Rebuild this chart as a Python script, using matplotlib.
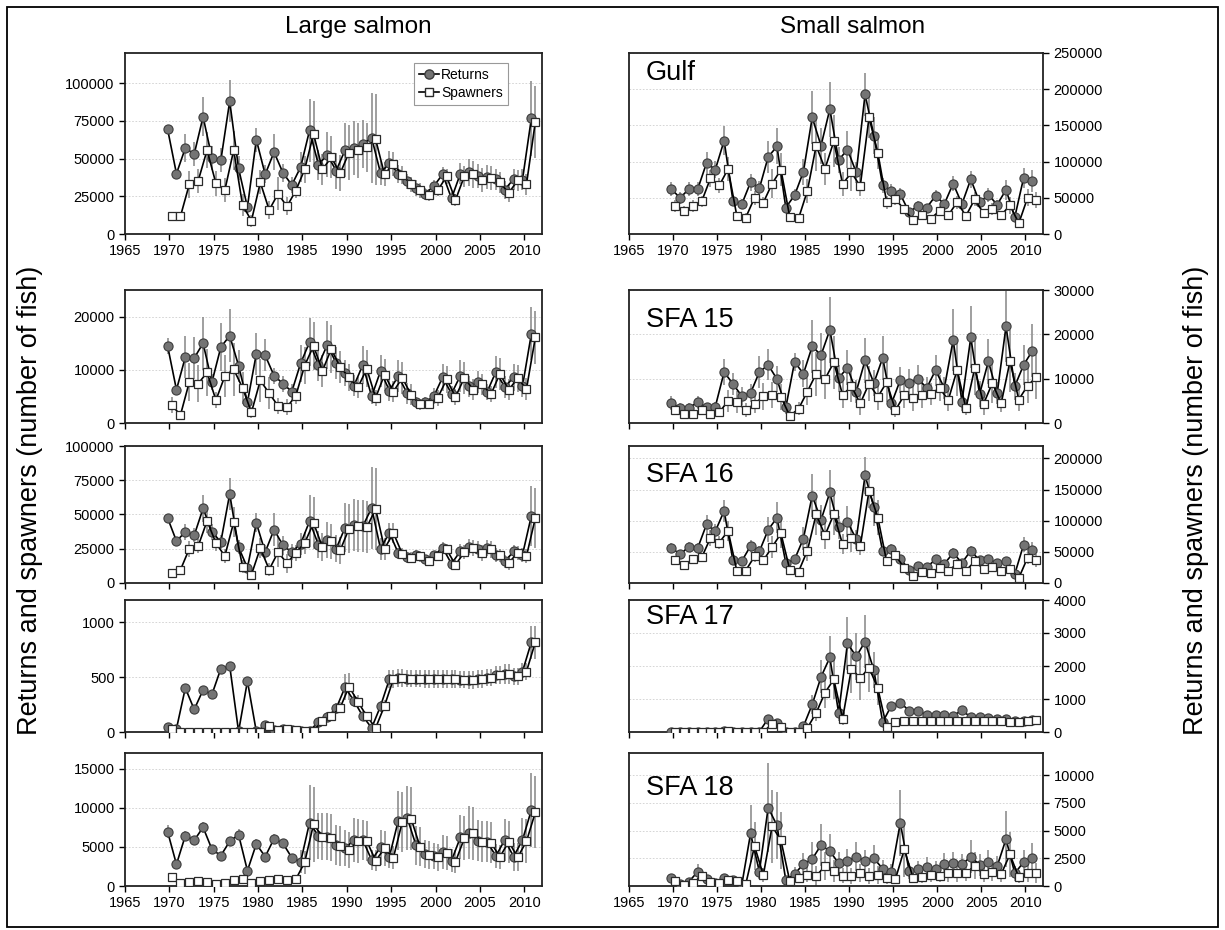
import numpy as np
import matplotlib
matplotlib.use("Agg")
import matplotlib.pyplot as plt
from matplotlib.lines import Line2D
from matplotlib.patches import Rectangle

plt.rcParams['font.family'] = ['Liberation Sans', 'DejaVu Sans']

years = list(range(1970, 2012))

# ---- Large salmon ----
large_gulf_ret = [69500, 40000, 57000, 53000, 77700, 50500, 48800, 88000, 43500, 17700, 62500, 39500, 54300, 40600,
                  32500, 44400, 68700, 46000, 52500, 42000, 55600, 57000, 59600, 63800, 40400, 47000, 40000, 34900,
                  30500, 26700, 31600, 39700, 23600, 40000, 41000, 38200, 38000, 36200, 29400, 36400, 36000, 76600]
large_gulf_spw = [11700, 11700, 33000, 35300, 55600, 33500, 29000, 55600, 19200, 8800, 34200, 15900, 26700, 18300,
                  28700, 42800, 66400, 42800, 50800, 40200, 54000, 55400, 57400, 62700, 39500, 46600, 39000, 33000,
                  29000, 25600, 29000, 38200, 22500, 38400, 39500, 36000, 36900, 34200, 27200, 35500, 33000, 74400]
large_gulf_ret_err = [0, 0, 9000, 8000, 13000, 8000, 8000, 14000, 8000, 4000, 8000, 6000, 12000, 6000, 5000, 10000,
                      21000, 10000, 15000, 12000, 18000, 18000, 16000, 30000, 8000, 8000, 6000, 5000, 5000, 4000,
                      4000, 5000, 4000, 7000, 9000, 8000, 8000, 7000, 6000, 7000, 7000, 25000]
large_gulf_spw_err = [0, 0, 9000, 8000, 12000, 8000, 8000, 13000, 7000, 4000, 8000, 6000, 11000, 6000, 5000, 9000,
                      22000, 10000, 14000, 12000, 18000, 18000, 16000, 30000, 8000, 8000, 6000, 5000, 5000, 4000,
                      4000, 5000, 4000, 7000, 9000, 8000, 8000, 7000, 6000, 7000, 7000, 24000]

large_sfa15_ret = [14500, 6250, 12400, 12200, 15000, 7700, 14250, 16400, 10800, 3900, 13000, 12700, 8900, 7400,
                   5900, 11250, 15200, 10900, 14700, 11250, 9400, 7000, 10900, 5000, 9750, 6100, 8800, 5600, 3900,
                   3900, 5000, 8600, 5500, 8900, 6900, 7700, 5800, 9600, 6750, 8600, 6900, 16750]
large_sfa15_spw = [3400, 1500, 7700, 7400, 9500, 4300, 8800, 10100, 6600, 2000, 8000, 5600, 3200, 3000, 5100,
                   10800, 14500, 9800, 13900, 10500, 8600, 6700, 10200, 4750, 9100, 5900, 8500, 5300, 3500, 3600,
                   4750, 8200, 4900, 8500, 6250, 7250, 5400, 9250, 6250, 8400, 6400, 16100]
large_sfa15_ret_err = [1500, 800, 4000, 4000, 5000, 1500, 4500, 5000, 3000, 1000, 4000, 3000, 1500, 1500, 1500,
                       3500, 4500, 3000, 4500, 3000, 2500, 2000, 3500, 1500, 3000, 2000, 3000, 2000, 1000, 1000,
                       1500, 2500, 1500, 3000, 2000, 2000, 1500, 3000, 2000, 2500, 2000, 5000]
large_sfa15_spw_err = [1500, 700, 3500, 3500, 4500, 1500, 4000, 5000, 3000, 1000, 4000, 3000, 1500, 1500, 1500,
                       3500, 4500, 3000, 4500, 3000, 2500, 2000, 3500, 1500, 3000, 2000, 3000, 2000, 1000, 1000,
                       1500, 2500, 1500, 3000, 2000, 2000, 1500, 3000, 2000, 2500, 2000, 5000]

large_sfa16_ret = [47500, 30600, 37300, 34800, 54400, 37300, 30000, 65000, 26200, 11000, 43900, 22500, 39000, 27500,
                   22500, 28700, 45100, 27900, 31600, 25000, 40400, 42200, 41400, 54900, 25000, 36800, 21800, 18900,
                   20100, 17200, 20100, 25700, 14000, 23300, 26200, 24500, 25700, 20600, 15700, 23000, 20600, 49000]
large_sfa16_spw = [7100, 9600, 25000, 27000, 45300, 29200, 19600, 44400, 12000, 6100, 25500, 9800, 22500, 14500,
                   22000, 29200, 43900, 26200, 30400, 23800, 39700, 41700, 40700, 54000, 25000, 36500, 21300, 18400,
                   19600, 16400, 19600, 24500, 13200, 22500, 25500, 21800, 24500, 20100, 14700, 22000, 19600, 47500]
large_sfa16_ret_err = [0, 0, 6000, 5000, 10000, 6000, 5000, 12000, 5000, 2000, 7000, 5000, 12000, 7000, 6000, 8000,
                       19000, 10000, 13000, 10000, 18000, 19000, 19000, 30000, 8000, 7000, 4000, 4000, 4000, 3000,
                       3000, 4000, 3000, 5000, 6000, 6000, 6000, 5000, 5000, 5000, 5000, 22000]
large_sfa16_spw_err = [0, 0, 6000, 5000, 9000, 6000, 5000, 11000, 5000, 2000, 7000, 5000, 11000, 7000, 6000, 8000,
                       19000, 10000, 13000, 10000, 18000, 19000, 19000, 30000, 8000, 7000, 4000, 4000, 4000, 3000,
                       3000, 4000, 3000, 5000, 6000, 6000, 6000, 5000, 5000, 5000, 5000, 22000]

large_sfa17_ret = [46, 30, 400, 205, 382, 342, 575, 602, 5, 462, 5, 60, 20, 25, 20, 10, 10, 92, 138, 214, 407, 284,
                   144, 37, 235, 480, 489, 486, 486, 483, 483, 480, 480, 477, 474, 480, 495, 517, 529, 505, 550, 817]
large_sfa17_spw = [28, 0, 0, 0, 0, 0, 0, 0, 0, 0, 0, 55, 20, 25, 18, 12, 12, 100, 144, 220, 413, 275, 144, 37,
                   238, 480, 489, 486, 486, 483, 483, 480, 480, 477, 474, 480, 495, 517, 529, 505, 550, 817]
large_sfa17_ret_err = [0, 0, 0, 0, 0, 0, 0, 0, 0, 0, 0, 0, 0, 0, 0, 0, 0, 30, 40, 50, 120, 60, 40, 20, 50, 80, 80,
                       80, 80, 80, 80, 80, 80, 80, 80, 80, 80, 80, 90, 80, 80, 150]
large_sfa17_spw_err = [0, 0, 0, 0, 0, 0, 0, 0, 0, 0, 0, 0, 0, 0, 0, 0, 0, 30, 40, 50, 120, 60, 40, 20, 50, 80, 80,
                       80, 80, 80, 80, 80, 80, 80, 80, 80, 80, 80, 90, 80, 80, 150]

large_sfa18_ret = [6950, 2770, 6430, 5840, 7500, 4690, 3880, 5710, 6560, 1960, 5370, 3750, 6050, 5450, 3620, 3110,
                   8100, 6390, 6300, 5240, 4810, 5880, 5880, 3320, 4940, 3750, 8350, 8730, 5200, 4050, 3830, 4350,
                   3240, 6220, 6820, 5800, 5670, 3830, 5880, 3750, 5880, 9710]
large_sfa18_spw = [1100, 430, 500, 640, 500, 300, 430, 770, 850, 430, 680, 720, 900, 720, 850, 3030, 7900, 6300,
                   6180, 5110, 4600, 5710, 5750, 3240, 4810, 3620, 8180, 8600, 5030, 3920, 3660, 4220, 3110, 6090,
                   6730, 5670, 5540, 3710, 5670, 3660, 5710, 9420]
large_sfa18_ret_err = [800, 500, 600, 600, 700, 500, 500, 600, 700, 400, 600, 500, 600, 600, 500, 1500, 4800, 3000,
                       3000, 2500, 2300, 2800, 2600, 1300, 2200, 1500, 3800, 4100, 2500, 1800, 1700, 2200, 1500,
                       2800, 3400, 2600, 2600, 1500, 2700, 1800, 2800, 4700]
large_sfa18_spw_err = [300, 200, 200, 200, 200, 200, 200, 200, 200, 200, 200, 200, 200, 200, 200, 1500, 4800, 3000,
                       3000, 2500, 2300, 2800, 2600, 1300, 2200, 1500, 3800, 4000, 2500, 1800, 1700, 2200, 1500,
                       2800, 3400, 2600, 2600, 1500, 2700, 1800, 2800, 4600]

# ---- Small salmon ----
small_gulf_ret = [62000, 50000, 62000, 62000, 98000, 89000, 129000, 46000, 41000, 71500, 63000, 106500, 121000,
                  36500, 53500, 86000, 161000, 122000, 172500, 102000, 116700, 85000, 193000, 136000, 67000, 60000,
                  55000, 30000, 39000, 36500, 52600, 41500, 69600, 41500, 75600, 43800, 54000, 40600, 61000, 23500,
                  77500, 73000]
small_gulf_spw = [39000, 32000, 39000, 45000, 77000, 67000, 90000, 24400, 22600, 50000, 43400, 69600, 89000, 23500,
                  21700, 59500, 122000, 90000, 128000, 69000, 85000, 66000, 161000, 112000, 44000, 48000, 34000,
                  19000, 26000, 21000, 32000, 26000, 44000, 25000, 48000, 28600, 34600, 26000, 39700, 14800, 50000,
                  47500]
small_gulf_ret_err = [10000, 8000, 10000, 10000, 15000, 12000, 20000, 8000, 7000, 12000, 10000, 22000, 25000, 6000,
                      8000, 18000, 37000, 25000, 38000, 18000, 25000, 15000, 30000, 25000, 10000, 9000, 8000, 5000,
                      6000, 5000, 8000, 6000, 10000, 6000, 12000, 7000, 10000, 7000, 14000, 5000, 14000, 15000]
small_gulf_spw_err = [8000, 7000, 8000, 8000, 12000, 10000, 17000, 6000, 6000, 10000, 8000, 20000, 23000, 5000,
                      6000, 16000, 35000, 22000, 36000, 16000, 25000, 14000, 28000, 22000, 9000, 8000, 6000, 4000,
                      5000, 5000, 7000, 5000, 9000, 5000, 10000, 6000, 8000, 6000, 12000, 4000, 12000, 11000]

small_sfa15_ret = [4500, 3450, 3450, 4660, 3600, 3700, 11500, 8800, 6100, 6750, 11500, 13100, 9900, 3500, 13800,
                   11100, 17300, 15300, 21000, 10100, 12500, 7100, 14100, 9000, 14700, 4400, 9700, 9100, 10000, 7900,
                   11900, 7900, 18700, 4800, 19300, 6500, 13900, 6700, 21800, 8300, 13100, 16300]
small_sfa15_spw = [2900, 2100, 2100, 2900, 2100, 2400, 5000, 4800, 2900, 4300, 6000, 6300, 5900, 1600, 3200, 7100,
                   11100, 9900, 13700, 6300, 8300, 4400, 8900, 5900, 9200, 2900, 6300, 5700, 6300, 6500, 7900, 5200,
                   12000, 3300, 12400, 4300, 9000, 4400, 13900, 5300, 8400, 10400]
small_sfa15_ret_err = [1500, 1000, 1000, 1500, 1000, 1000, 3000, 2500, 2000, 2000, 3500, 3500, 3000, 1500, 2000,
                       3000, 6000, 5000, 7500, 3000, 4000, 2500, 5000, 3000, 5000, 1500, 3000, 3000, 3000, 2500,
                       3500, 2500, 7000, 2000, 7000, 3000, 5000, 2500, 8000, 3000, 4500, 6000]
small_sfa15_spw_err = [1000, 800, 800, 1000, 800, 800, 2500, 2500, 1500, 2000, 3000, 3000, 3000, 1000, 1500, 3000,
                       5000, 4500, 6000, 3000, 3500, 2500, 4000, 3000, 4500, 1500, 3000, 3000, 3000, 2500, 3000,
                       2500, 6000, 1500, 6000, 2500, 4500, 2000, 7000, 2500, 4000, 5000]

small_sfa16_ret = [56800, 46000, 58400, 56200, 94000, 83200, 115700, 36200, 35100, 59500, 50800, 85400, 104900,
                   32400, 37800, 71400, 140500, 101000, 145400, 89200, 98400, 70300, 173000, 122000, 50800, 54000,
                   38900, 21600, 26500, 25400, 37800, 30800, 48100, 32400, 51900, 36200, 37800, 32400, 34600, 14600,
                   61600, 53500]
small_sfa16_spw = [36200, 29700, 37800, 41000, 72400, 64900, 83800, 18900, 20000, 42700, 36200, 57800, 79500,
                   21600, 18400, 51900, 110300, 76800, 110300, 62200, 72400, 58900, 148000, 105000, 34600, 44300,
                   24300, 10800, 17300, 15700, 23800, 19500, 30800, 20000, 34600, 22700, 25400, 20000, 22700, 8100,
                   40500, 36200]
small_sfa16_ret_err = [8000, 7000, 8000, 8000, 15000, 12000, 18000, 7000, 6000, 10000, 8000, 20000, 25000, 6000,
                       7000, 18000, 35000, 25000, 36000, 18000, 25000, 15000, 30000, 30000, 8000, 8000, 6000, 4000,
                       5000, 5000, 6000, 5000, 8000, 5000, 8000, 6000, 7000, 6000, 7000, 4000, 12000, 12000]
small_sfa16_spw_err = [7000, 6000, 7000, 7000, 13000, 11000, 16000, 6000, 5000, 9000, 7000, 18000, 23000, 5000,
                       6000, 16000, 33000, 23000, 34000, 16000, 23000, 14000, 28000, 28000, 7000, 7000, 5000, 3000,
                       4000, 4000, 5000, 4000, 7000, 4000, 7000, 5000, 6000, 5000, 6000, 3000, 10000, 10000]

small_sfa17_ret = [10, 10, 10, 10, 10, 10, 20, 10, 10, 10, 10, 407, 275, 10, 10, 173, 834, 1668, 2258, 580, 2685,
                   2288, 2736, 1871, 300, 803, 885, 651, 630, 529, 508, 529, 488, 661, 447, 458, 427, 407, 380, 330,
                   330, 360]
small_sfa17_spw = [0, 0, 0, 0, 0, 0, 30, 0, 0, 0, 0, 254, 153, 0, 0, 122, 580, 1190, 1597, 407, 1922, 1627, 1953,
                   1322, 150, 305, 325, 320, 320, 320, 320, 320, 320, 320, 320, 320, 320, 320, 300, 290, 330, 356]
small_sfa17_ret_err = [0, 0, 0, 0, 0, 0, 0, 0, 0, 0, 0, 50, 40, 0, 0, 50, 300, 500, 650, 250, 800, 700, 800, 550,
                       100, 60, 60, 50, 50, 50, 50, 50, 50, 50, 50, 50, 50, 50, 50, 40, 40, 40]
small_sfa17_spw_err = [0, 0, 0, 0, 0, 0, 0, 0, 0, 0, 0, 40, 30, 0, 0, 40, 250, 450, 600, 200, 750, 650, 750, 500,
                       80, 40, 40, 40, 40, 40, 40, 40, 40, 40, 40, 40, 40, 40, 40, 30, 30, 30]

small_sfa18_ret = [690, 150, 390, 1290, 600, 300, 690, 540, 90, 4740, 1290, 7080, 5460, 540, 1080, 1980, 2430, 3690,
                   3150, 2040, 2280, 2640, 2280, 2490, 1560, 1290, 5700, 1350, 1500, 1740, 1500, 1980, 2040, 1950,
                   2640, 1920, 2130, 1800, 4230, 1140, 2160, 2520]
small_sfa18_spw = [480, 120, 240, 930, 390, 240, 540, 480, 150, 3600, 990, 5400, 4110, 450, 690, 1020, 900, 1800,
                   1380, 930, 900, 1140, 900, 1020, 690, 630, 3300, 750, 840, 1020, 930, 1140, 1200, 1140, 1830,
                   1080, 1260, 1080, 2850, 780, 1200, 1140]
small_sfa18_ret_err = [200, 100, 200, 700, 200, 100, 200, 200, 50, 2600, 700, 4000, 3000, 300, 600, 1000, 1500,
                       1900, 1500, 1000, 1100, 1300, 1000, 1200, 800, 700, 3000, 700, 800, 900, 800, 1000, 1000, 900,
                       1500, 1000, 1100, 900, 2500, 700, 1100, 1400]
small_sfa18_spw_err = [150, 80, 150, 500, 150, 80, 150, 150, 50, 2200, 600, 3300, 2600, 200, 400, 700, 900, 1300,
                       1000, 700, 700, 800, 700, 800, 500, 400, 2500, 500, 600, 700, 600, 800, 800, 700, 1200, 700,
                       800, 700, 2000, 500, 800, 900]

panel_labels = ["Gulf", "SFA 15", "SFA 16", "SFA 17", "SFA 18"]
large_yticks = [[0, 25000, 50000, 75000, 100000], [0, 10000, 20000], [0, 25000, 50000, 75000, 100000],
                [0, 500, 1000], [0, 5000, 10000, 15000]]
small_yticks = [[0, 50000, 100000, 150000, 200000, 250000], [0, 10000, 20000, 30000],
                [0, 50000, 100000, 150000, 200000], [0, 1000, 2000, 3000, 4000],
                [0, 2500, 5000, 7500, 10000]]
large_ymax = [120000, 25000, 100000, 1200, 17000]
small_ymax = [250000, 30000, 220000, 4000, 12000]

large = [(large_gulf_ret, large_gulf_spw, large_gulf_ret_err, large_gulf_spw_err),
         (large_sfa15_ret, large_sfa15_spw, large_sfa15_ret_err, large_sfa15_spw_err),
         (large_sfa16_ret, large_sfa16_spw, large_sfa16_ret_err, large_sfa16_spw_err),
         (large_sfa17_ret, large_sfa17_spw, large_sfa17_ret_err, large_sfa17_spw_err),
         (large_sfa18_ret, large_sfa18_spw, large_sfa18_ret_err, large_sfa18_spw_err)]
small = [(small_gulf_ret, small_gulf_spw, small_gulf_ret_err, small_gulf_spw_err),
         (small_sfa15_ret, small_sfa15_spw, small_sfa15_ret_err, small_sfa15_spw_err),
         (small_sfa16_ret, small_sfa16_spw, small_sfa16_ret_err, small_sfa16_spw_err),
         (small_sfa17_ret, small_sfa17_spw, small_sfa17_ret_err, small_sfa17_spw_err),
         (small_sfa18_ret, small_sfa18_spw, small_sfa18_ret_err, small_sfa18_spw_err)]

# layout in pixels (figure is 1225 x 930)
W, H = 1225.0, 930.0
cols_px = [(125, 542), (629, 1043)]
rows_px = [(53, 234), (290, 423), (446, 583), (600, 732), (753, 886)]
label_y = [0.89, 0.775, 0.79, 0.87, 0.74]

x_ret = np.array(years) - 0.2
x_spw = np.array(years) + 0.25

fig = plt.figure(figsize=(12.25, 9.3), dpi=100)


def draw_panel(ax, series, ymax, yticks, right, show_x):
    ret, spw, ret_err, spw_err = series
    ax.errorbar(x_ret, ret, yerr=ret_err, fmt='none', ecolor='#858585', elinewidth=1.1, capsize=0, zorder=1)
    ax.errorbar(x_spw, spw, yerr=spw_err, fmt='none', ecolor='#858585', elinewidth=1.1, capsize=0, zorder=1)
    ax.plot(x_ret, ret, '-o', color='black', lw=1.2, mfc='#747474', mec='#3c3c3c', mew=0.8, ms=6.6, zorder=3)
    ax.plot(x_spw, spw, '-s', color='black', lw=1.2, mfc='white', mec='#2a2a2a', mew=0.9, ms=5.8, zorder=4)
    ax.set_xlim(1965, 2012)
    ax.set_xticks(range(1965, 2011, 5))
    ax.set_ylim(0, ymax)
    ax.set_yticks(yticks)
    ax.set_yticklabels([str(t) for t in yticks])
    ax.grid(axis='y', color='#cfcfcf', linestyle=(0, (2, 2)), lw=0.6)
    ax.set_axisbelow(True)
    ax.tick_params(direction='out', length=4, width=1, labelsize=10.5, colors='black')
    if not show_x:
        ax.set_xticklabels([])
    if right:
        ax.yaxis.tick_right()
    for s in ax.spines.values():
        s.set_linewidth(1.3)
        s.set_color('#222222')


for r in range(5):
    t, b = rows_px[r]
    show_x = r in (0, 4)
    # left: large salmon
    l, rr = cols_px[0]
    ax = fig.add_axes([l / W, 1 - b / H, (rr - l) / W, (b - t) / H])
    draw_panel(ax, large[r], large_ymax[r], large_yticks[r], False, show_x)
    if r == 0:
        handles = [Line2D([], [], color='black', lw=1.2, marker='o', mfc='#747474', mec='#3c3c3c', ms=6.6),
                   Line2D([], [], color='black', lw=1.2, marker='s', mfc='white', mec='#2a2a2a', ms=5.8)]
        leg = ax.legend(handles, ['Returns', 'Spawners'], loc='upper right', bbox_to_anchor=(0.935, 0.985),
                        fontsize=10, fancybox=False, handlelength=1.4, handletextpad=0.2,
                        borderpad=0.35, labelspacing=0.3, framealpha=1)
        leg.get_frame().set_edgecolor('#999999')
        leg.get_frame().set_linewidth(0.8)
    # right: small salmon
    l, rr = cols_px[1]
    ax = fig.add_axes([l / W, 1 - b / H, (rr - l) / W, (b - t) / H])
    draw_panel(ax, small[r], small_ymax[r], small_yticks[r], True, show_x)
    ax.text(0.04, label_y[r], panel_labels[r], transform=ax.transAxes, fontsize=19.5, ha='left', va='center')

fig.text(358 / W, 1 - 27 / H, 'Large salmon', ha='center', va='center', fontsize=17.5)
fig.text(853 / W, 1 - 27 / H, 'Small salmon', ha='center', va='center', fontsize=17.5)
fig.text(30 / W, 1 - 500 / H, 'Returns and spawners (number of fish)', rotation=90, ha='center', va='center',
         fontsize=19.5)
fig.text(1196 / W, 1 - 500 / H, 'Returns and spawners (number of fish)', rotation=90, ha='center', va='center',
         fontsize=19.5)

fig.patches.append(Rectangle((7 / W, 1 - 927 / H), (1218 - 7) / W, (927 - 7) / H, transform=fig.transFigure,
                             fill=False, lw=1.3, edgecolor='black'))

fig.savefig('out.png', dpi=100)
